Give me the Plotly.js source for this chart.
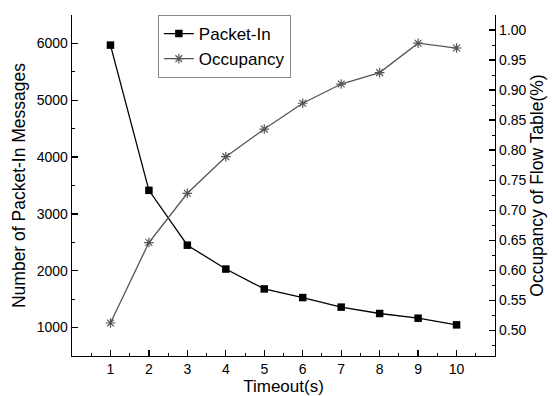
<!DOCTYPE html>
<html>
<head>
<meta charset="utf-8">
<script src="https://cdn.plot.ly/plotly-3.0.1.min.js"></script>
<style>html,body{margin:0;padding:0;background:#fff;}#chart{width:553px;height:396px;}</style>
</head>
<body>
<div id="chart"></div>
<script>
var timeout = [1, 2, 3, 4, 5, 6, 7, 8, 9, 10];
var packetIn = [5970, 3415, 2450, 2030, 1680, 1528, 1360, 1248, 1165, 1048];
var occupancy = [0.512, 0.646, 0.728, 0.789, 0.835, 0.878, 0.910, 0.929, 0.978, 0.970];
var xTicks = [1, 2, 3, 4, 5, 6, 7, 8, 9, 10];

var font = 'Liberation Sans, Arial, sans-serif';

var traces = [
  {
    x: timeout, y: packetIn, name: 'Packet-In', type: 'scatter', mode: 'lines+markers',
    line: {color: '#000', width: 1.3},
    marker: {symbol: 'square', size: 7.5, color: '#000'},
    yaxis: 'y'
  },
  {
    x: timeout, y: occupancy, name: 'Occupancy', type: 'scatter', mode: 'lines+markers',
    line: {color: '#555', width: 1.3},
    marker: {symbol: 'asterisk-open', size: 8, color: '#555', line: {color: '#555', width: 1.2}},
    yaxis: 'y2'
  }
];

var layout = {
  width: 553, height: 396,
  margin: {l: 72, r: 58, t: 15, b: 40},
  paper_bgcolor: '#fff', plot_bgcolor: '#fff',
  font: {family: font, color: '#000', size: 14},
  showlegend: true,
  legend: {
    x: 0.203, y: 1.0, xanchor: 'left', yanchor: 'top',
    bgcolor: '#fff', bordercolor: '#888', borderwidth: 1,
    font: {family: font, size: 17, color: '#000'},
    tracegroupgap: 0
  },
  xaxis: {
    range: [0, 11], tickvals: xTicks, ticktext: xTicks.map(String),
    ticks: 'inside', ticklen: 6, tickwidth: 1.2, tickcolor: '#000',
    minor: {dtick: 0.5, tick0: 0.5, ticks: 'inside', ticklen: 3, tickwidth: 1, tickcolor: '#000'},
    showline: true, linecolor: '#000', linewidth: 1.3,
    showgrid: false, zeroline: false,
    tickfont: {size: 14},
    title: {text: 'Timeout(s)', font: {size: 17}, standoff: 3}
  },
  yaxis: {
    range: [500, 6500], tickvals: [1000, 2000, 3000, 4000, 5000, 6000],
    ticks: 'inside', ticklen: 6, tickwidth: 1.2, tickcolor: '#000',
    minor: {dtick: 500, tick0: 500, ticks: 'inside', ticklen: 3, tickwidth: 1, tickcolor: '#000'},
    showline: true, linecolor: '#000', linewidth: 1.3,
    showgrid: false, zeroline: false,
    tickfont: {size: 14},
    title: {text: 'Number of Packet-In Messages', font: {size: 17.5}, standoff: 6}
  },
  yaxis2: {
    overlaying: 'y', side: 'right',
    range: [0.457, 1.025],
    tickvals: [0.50, 0.55, 0.60, 0.65, 0.70, 0.75, 0.80, 0.85, 0.90, 0.95, 1.00],
    ticktext: ['0.50', '0.55', '0.60', '0.65', '0.70', '0.75', '0.80', '0.85', '0.90', '0.95', '1.00'],
    ticks: 'inside', ticklen: 6, tickwidth: 1.2, tickcolor: '#000',
    minor: {dtick: 0.025, tick0: 0.475, ticks: 'inside', ticklen: 3, tickwidth: 1, tickcolor: '#000'},
    showline: true, linecolor: '#000', linewidth: 1.3,
    showgrid: false, zeroline: false,
    tickfont: {size: 14},
    title: {text: 'Occupancy of Flow Table(%)', font: {size: 17.5}, standoff: 5}
  }
};

Plotly.newPlot('chart', traces, layout, {displayModeBar: false, staticPlot: true});
</script>
</body>
</html>
